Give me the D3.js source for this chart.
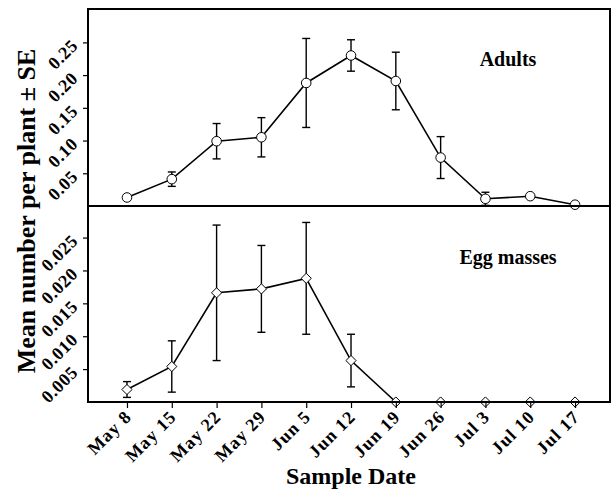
<!DOCTYPE html>
<html>
<head>
<meta charset="utf-8">
<script src="https://cdn.jsdelivr.net/npm/d3@7"></script>
<style>
  body { margin: 0; background: #fff; }
  text { font-family: "Liberation Serif", "Times New Roman", serif; font-weight: bold; }
</style>
</head>
<body>
<div id="chart"></div>
<script>
const dates = ["May 8", "May 15", "May 22", "May 29", "Jun 5", "Jun 12", "Jun 19", "Jun 26", "Jul 3", "Jul 10", "Jul 17"];

const adultMean = [0.013, 0.041, 0.099, 0.105, 0.188, 0.230, 0.191, 0.074, 0.011, 0.015, 0.002];
const adultSE   = [0.002, 0.011, 0.027, 0.030, 0.068, 0.024, 0.044, 0.032, 0.010, 0.002, 0.000];

const eggMean = [0.0019, 0.0054, 0.0166, 0.0172, 0.0188, 0.0063, 0, 0, 0, 0, 0];
const eggSE   = [0.0012, 0.0039, 0.0103, 0.0066, 0.0085, 0.0040, 0, 0, 0, 0, 0];

const adultTicks = [0.05, 0.10, 0.15, 0.20, 0.25];
const eggTicks = [0.005, 0.010, 0.015, 0.020, 0.025];

const width = 614, height = 490;
const mLeft = 88, mRight = 610, mTop = 9, mMid = 206, mBottom = 402;

const svg = d3.select("#chart").append("svg")
    .attr("width", width)
    .attr("height", height);

const x = d3.scaleLinear()
    .domain([-0.87, 10.78])
    .range([mLeft, mRight]);

const yA = d3.scaleLinear().domain([0, 0.301]).range([mMid, mTop]);
const yE = d3.scaleLinear().domain([0, 0.0298]).range([mBottom, mMid]);

function drawPanel(y, means, ses, ticks, fmt, shape, label, labelY) {
    const g = svg.append("g");

    // y axis, labels slanted
    const axis = d3.axisLeft(y).tickValues(ticks).tickFormat(d3.format(fmt)).tickSize(5).tickSizeOuter(0);
    const ag = g.append("g").attr("transform", "translate(" + mLeft + ",0)").call(axis);
    ag.select(".domain").remove();
    ag.selectAll("line").attr("stroke", "#000").attr("stroke-width", 1.2);
    ag.selectAll("text")
        .attr("font-size", 18)
        .attr("letter-spacing", 0.5)
        .attr("fill", "#000")
        .attr("dy", null)
        .attr("x", null)
        .attr("text-anchor", "end")
        .attr("transform", "translate(-9,4) rotate(-45)");

    // error bars
    const eb = g.append("g").attr("stroke", "#000").attr("stroke-width", 1.4);
    means.forEach(function(m, i) {
        if (ses[i] <= 0) return;
        const cx = x(i), y1 = y(m + ses[i]), y0 = y(Math.max(0, m - ses[i]));
        eb.append("line").attr("x1", cx).attr("x2", cx).attr("y1", y1).attr("y2", y0);
        eb.append("line").attr("x1", cx - 4).attr("x2", cx + 4).attr("y1", y1).attr("y2", y1);
        eb.append("line").attr("x1", cx - 4).attr("x2", cx + 4).attr("y1", y0).attr("y2", y0);
    });

    const line = d3.line()
        .x(function(d, i) { return x(i); })
        .y(function(d) { return y(d); });

    g.append("path")
        .datum(means)
        .attr("fill", "none")
        .attr("stroke", "#000")
        .attr("stroke-width", 1.6)
        .attr("d", line);

    g.selectAll(".pt")
        .data(means)
        .enter().append("path")
        .attr("class", "pt")
        .attr("transform", function(d, i) { return "translate(" + x(i) + "," + y(d) + ")"; })
        .attr("d", d3.symbol().type(shape).size(shape === d3.symbolCircle ? 72 : 66))
        .attr("fill", "#fff")
        .attr("stroke", "#000")
        .attr("stroke-width", 1);

    g.append("text")
        .attr("x", 508)
        .attr("y", labelY)
        .attr("text-anchor", "middle")
        .attr("font-size", 20)
        .text(label);
}

drawPanel(yA, adultMean, adultSE, adultTicks, ".2f", d3.symbolCircle, "Adults", 66);
drawPanel(yE, eggMean, eggSE, eggTicks, ".3f", d3.symbolDiamond2, "Egg masses", 264);

// frames
const frame = svg.append("g").attr("fill", "none").attr("stroke", "#000").attr("stroke-width", 2);
frame.append("rect").attr("x", mLeft).attr("y", mTop).attr("width", mRight - mLeft).attr("height", mMid - mTop);
frame.append("path").attr("d", "M" + mLeft + "," + mMid + "V" + mBottom + "H" + mRight + "V" + mMid);

// x axis
const xAxis = d3.axisBottom(x)
    .tickValues(d3.range(dates.length))
    .tickFormat(function(i) { return dates[i]; })
    .tickSize(6)
    .tickSizeOuter(0);

const xg = svg.append("g").attr("transform", "translate(0," + mBottom + ")").call(xAxis);
xg.select(".domain").remove();
xg.selectAll("line").attr("stroke", "#000").attr("stroke-width", 1.2);
xg.selectAll("text")
    .attr("font-size", 18)
    .attr("letter-spacing", 1)
    .attr("fill", "#000")
    .attr("y", null)
    .attr("dy", null)
    .attr("text-anchor", "end")
    .attr("transform", "translate(5,16) rotate(-45)");

svg.append("text")
    .attr("x", 351)
    .attr("y", 484)
    .attr("text-anchor", "middle")
    .attr("font-size", 24)
    .text("Sample Date");

svg.append("text")
    .attr("transform", "translate(35,211) rotate(-90)")
    .attr("text-anchor", "middle")
    .attr("font-size", 26)
    .text("Mean number per plant ± SE");
</script>
</body>
</html>
